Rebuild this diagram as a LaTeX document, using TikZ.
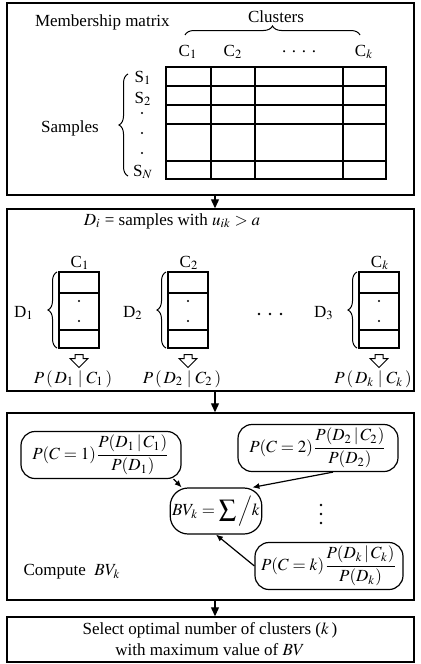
\documentclass[tikz,border=0pt]{standalone}
\usepackage{amsmath}
\usepackage{mathptmx}
\usepackage{fontspec}
\setmainfont{Liberation Serif}
\usetikzlibrary{arrows.meta,positioning,fit,calc,shapes.arrows,decorations.pathreplacing}
\tikzset{
  panel/.style={draw, line width=0.7pt, inner sep=0pt},
  cell/.style={line width=0.7pt},
  probbox/.style={draw, rounded corners=7pt, line width=0.6pt, inner sep=1pt, minimum width=80pt, minimum height=23.5pt},
  sumbox/.style={draw, rounded corners=9pt, line width=0.6pt, inner sep=1pt, minimum width=45.5pt, minimum height=23pt},
  hollow/.style={single arrow, draw, line width=0.5pt, shape border rotate=270, minimum height=6.5pt, inner sep=1.75pt, single arrow head extend=2.5pt},
  flow/.style={-{Triangle[length=4.5pt,width=4pt]}, line width=0.6pt},
  feed/.style={-{Latex[length=3.5pt,width=3pt]}, line width=0.6pt},
  brace/.style={decorate, decoration={brace, amplitude=4.5pt}, line width=0.5pt}
}

\begin{document}
\begin{tikzpicture}[x=0.5pt, y=-0.5pt, font=\fontsize{8.5}{10.5}\selectfont]
    \useasboundingbox (0,0) rectangle (420,664);

    % panels
    \node[panel, fit={(7,3) (414,195)}] (matrix) {};
    \node[panel, fit={(7,209) (414,391)}] (subsets) {};
    \node[panel, fit={(7,413) (414,600)}] (compute) {};
    \node[panel, fit={(7,617) (414,662)}] (select) {};
    \node[align=center, inner sep=0pt] (choice) at (210,639) {Select optimal number of clusters ($k$\,)\\with maximum value of $BV$};

    \draw[flow] ([xshift=2.25pt]matrix.south) -- ([xshift=2.25pt]subsets.north);
    \draw[flow] ([xshift=2.25pt]subsets.south) -- ([xshift=2.25pt]compute.north);
    \draw[flow] ([xshift=2.25pt]compute.south) -- ([xshift=2.25pt]select.north);

    % membership matrix
    \node[anchor=west] (mtitle) at (28,22) {Membership matrix};
    \node (clusters) at (276,17) {Clusters};
    \draw[brace] (185,35) -- (360,35);
    \foreach \x/\t [count=\i] in {188/C$_1$, 233/C$_2$, 299/{. . . .}, 364/C$_k$}
      \node (col\i) at (\x,52) {\t};
    \draw[cell] (166,67) rectangle (386,179);
    \foreach \x in {211,255,343}
      \draw[cell] (\x,67) -- (\x,179);
    \foreach \y in {86,105,124,161}
      \draw[cell] (166,\y) -- (386,\y);
    \node (s1) at (143,78) {S$_1$};
    \node (s2) at (143,99) {S$_2$};
    \node (sn) at (143,172) {S$_N$};
    \foreach \y in {113,133,153}
      \fill (142,\y) circle (0.6pt);
    \draw[brace] (128,176) -- (128,74);
    \node (samples) at (70,128) {Samples};

    % subsets per cluster
    \node (rule) at (172,221) {$D_i$ = samples with $u_{ik} > a$};
    \foreach \x/\c/\d [count=\i] in {59/1/1, 168/2/2, 359/k/3} {
      \draw[cell] (\x,272) rectangle ++(40,76);
      \draw[cell] (\x,293) -- ++(40,0) (\x,330) -- ++(40,0);
      \fill (\x+20,301) circle (0.6pt) (\x+20,321) circle (0.6pt);
      \node (cl\i) at (\x+21,263) {C$_\c$};
      \draw[brace] (\x-2,348) -- (\x-2,272);
      \node (dl\i) at (\x-35,313) {D$_\d$};
      \node[hollow] (down\i) at (\x+20,359) {};
      \node (pd\i) at (\x+14,379) {$P\,(\,D_\c\;|\;C_\c\,)$};
    }
    \foreach \x in {259,270,281}
      \fill (\x,314) circle (0.7pt);

    % Bayesian value
    \node[probbox] (f1) at (101,455) {$P(C=1)\dfrac{P(D_1\,|\,C_1)}{P(D_1)}$};
    \node[probbox] (f2) at (318,448) {$P(C=2)\dfrac{P(D_2\,|\,C_2)}{P(D_2)}$};
    \node[probbox, minimum width=74pt] (f3) at (329,566) {$P(C=k)\dfrac{P(D_k\,|\,C_k)}{P(D_k)}$};
    \node[sumbox] (bv) at (216,511) {$BV_k=\displaystyle\sum\Big/k$};
    \foreach \y in {505,514,523}
      \fill (321,\y) circle (0.7pt);
    \node (bvlabel) at (72,572) {Compute\ \ $BV_k$};

    \draw[feed] ([xshift=-4pt]f1.south east) -- ([xshift=6pt]bv.north west);
    \draw[feed] ([xshift=7.5pt]f2.south) -- ([xshift=-5pt]bv.north east);
    \draw[feed] (f3.west) -- (bv.south);
  \end{tikzpicture}
\end{document}
